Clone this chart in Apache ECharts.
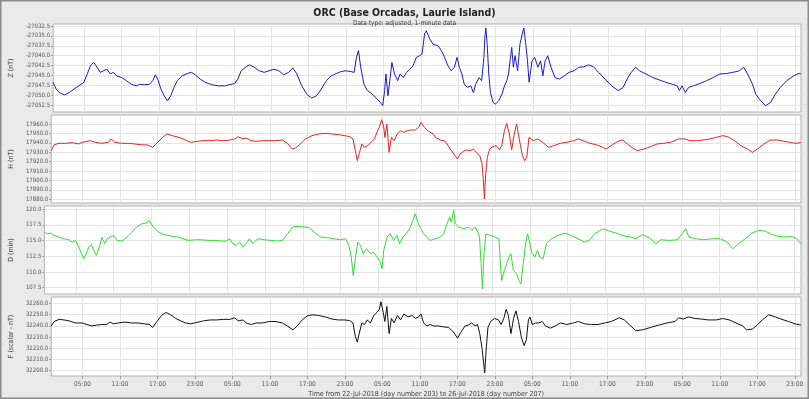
<!DOCTYPE html>
<html>
<head>
<meta charset="utf-8">
<script src="https://cdn.jsdelivr.net/npm/echarts@6/dist/echarts.min.js"></script>
<style>
html, body { margin: 0; padding: 0; background: #eaeaea; }
#chart { width: 809px; height: 399px; }
</style>
</head>
<body>
<div id="chart"></div>
<script>
// time is hours since 22-Jul-2018 00:00 UT
var hourTicks = [5, 11, 17, 23, 29, 35, 41, 47, 53, 59, 65, 71, 77, 83, 89, 95, 101, 107, 113, 119];

var zTicks = [-27052.5, -27050.0, -27047.5, -27045.0, -27042.5, -27040.0, -27037.5, -27035.0, -27032.5];
var hTicks = [17880, 17890, 17900, 17910, 17920, 17930, 17940, 17950, 17960];
var dTicks = [107.5, 110.0, 112.5, 115.0, 117.5, 120.0];
var fTicks = [32200, 32210, 32220, 32230, 32240, 32250, 32260];

var zData = [[0,-27046.7],[0.47,-27048.4],[1.00,-27049.3],[1.79,-27049.9],[2.58,-27049.3],[3.36,-27048.4],[4.15,-27047.6],[4.94,-27046.7],[5.47,-27044.6],[5.99,-27042.5],[6.52,-27041.7],[7.04,-27042.9],[7.57,-27044.2],[8.09,-27043.8],[8.62,-27043.4],[9.15,-27044.6],[9.67,-27044.2],[10.20,-27045.1],[10.98,-27045.5],[11.77,-27046.3],[12.56,-27047.2],[13.35,-27047.6],[13.88,-27047.2],[14.66,-27047.3],[15.45,-27047.2],[15.98,-27046.3],[16.40,-27044.8],[16.77,-27045.9],[17.29,-27048.4],[17.82,-27050.1],[18.34,-27051.4],[18.87,-27050.1],[19.39,-27048.0],[19.92,-27046.3],[20.71,-27045.1],[21.50,-27044.5],[22.18,-27044.2],[22.81,-27044.8],[23.60,-27045.9],[24.39,-27046.7],[25.44,-27047.3],[26.49,-27047.6],[27.54,-27047.6],[28.33,-27047.3],[29.12,-27047.0],[29.64,-27045.9],[30.17,-27043.8],[30.96,-27042.8],[31.48,-27042.3],[32.27,-27042.9],[33.06,-27043.8],[33.85,-27044.2],[34.64,-27043.8],[35.43,-27043.4],[36.21,-27043.8],[37.00,-27044.8],[37.79,-27044.2],[38.47,-27043.1],[39.10,-27044.6],[39.89,-27047.6],[40.68,-27049.7],[41.47,-27050.7],[42.26,-27050.1],[43.05,-27048.4],[43.84,-27046.3],[44.62,-27045.1],[45.41,-27044.5],[46.20,-27044.0],[46.99,-27043.8],[47.78,-27044.0],[48.30,-27044.2],[48.67,-27040.4],[48.99,-27038.7],[49.35,-27042.9],[49.88,-27047.2],[50.40,-27048.8],[50.93,-27049.3],[51.46,-27050.1],[51.98,-27050.9],[52.51,-27051.8],[52.88,-27052.6],[53.19,-27048.8],[53.40,-27044.6],[53.72,-27050.1],[54.08,-27045.5],[54.35,-27041.7],[54.77,-27044.6],[55.29,-27046.3],[55.66,-27044.6],[56.19,-27045.5],[56.71,-27044.2],[57.24,-27043.4],[57.76,-27042.5],[58.29,-27040.4],[58.81,-27040.0],[59.18,-27039.6],[59.60,-27034.5],[59.87,-27033.7],[60.44,-27035.8],[60.97,-27037.1],[61.76,-27037.5],[62.28,-27038.7],[62.81,-27040.4],[63.33,-27042.5],[63.86,-27043.8],[64.39,-27042.9],[64.81,-27040.4],[65.17,-27042.9],[65.59,-27044.6],[65.96,-27047.2],[66.49,-27048.0],[67.01,-27047.6],[67.43,-27049.3],[67.80,-27047.2],[68.33,-27045.5],[68.75,-27046.3],[69.12,-27040.4],[69.27,-27035.4],[69.43,-27033.0],[69.64,-27037.1],[69.90,-27044.6],[70.17,-27049.3],[70.59,-27051.8],[70.96,-27052.2],[71.48,-27051.4],[72.01,-27049.7],[72.43,-27047.6],[72.80,-27046.3],[73.06,-27044.6],[73.32,-27041.3],[73.58,-27037.9],[73.85,-27042.9],[74.11,-27040.0],[74.53,-27043.8],[74.90,-27037.1],[75.27,-27034.5],[75.53,-27033.0],[75.84,-27037.1],[76.11,-27041.3],[76.37,-27046.7],[76.63,-27047.2],[76.84,-27041.3],[77.26,-27040.4],[77.79,-27042.9],[78.21,-27041.3],[78.58,-27045.1],[78.94,-27041.3],[79.36,-27040.0],[79.89,-27042.9],[80.52,-27045.5],[81.20,-27045.9],[81.99,-27045.1],[82.78,-27044.2],[83.57,-27043.8],[84.36,-27042.9],[85.15,-27042.8],[85.94,-27042.3],[86.72,-27042.8],[87.51,-27044.2],[88.56,-27045.9],[89.62,-27047.6],[90.67,-27048.8],[91.45,-27048.0],[92.24,-27045.5],[92.77,-27044.2],[93.45,-27042.9],[94.08,-27043.8],[95.13,-27044.6],[96.18,-27045.5],[97.24,-27046.1],[98.29,-27046.7],[99.34,-27047.2],[100.13,-27047.6],[100.49,-27048.8],[100.92,-27047.6],[101.44,-27049.3],[101.97,-27048.0],[102.75,-27047.6],[103.81,-27047.0],[104.86,-27046.3],[105.91,-27045.5],[106.96,-27044.6],[108.01,-27044.5],[109.06,-27044.2],[110.11,-27043.8],[110.80,-27042.9],[111.43,-27044.6],[112.22,-27047.2],[112.74,-27049.7],[113.53,-27051.4],[114.32,-27052.6],[115.11,-27051.8],[115.89,-27049.7],[116.68,-27048.0],[117.73,-27046.3],[118.79,-27045.1],[119.57,-27044.5],[119.99,-27044.6]];

var hData = [[0,17931.7],[0.47,17938.0],[1.26,17939.5],[2.31,17939.5],[3.36,17940.2],[4.42,17938.8],[4.94,17940.5],[5.73,17941.6],[6.25,17942.3],[7.04,17940.5],[8.09,17939.5],[9.15,17940.5],[9.57,17944.1],[10.20,17940.5],[11.25,17939.5],[12.30,17939.5],[13.35,17938.8],[14.40,17938.0],[15.45,17937.7],[16.24,17935.2],[17.03,17940.5],[17.82,17945.8],[18.50,17949.4],[19.39,17947.6],[20.45,17945.8],[21.50,17943.0],[22.29,17940.5],[23.34,17941.6],[24.39,17942.3],[25.44,17942.3],[26.49,17943.0],[27.54,17942.3],[28.59,17943.0],[29.38,17944.1],[29.91,17946.5],[30.70,17944.1],[31.22,17945.1],[32.01,17942.3],[32.80,17941.6],[33.85,17942.3],[34.90,17942.3],[35.95,17942.3],[37.00,17943.0],[37.79,17939.5],[38.58,17933.4],[39.10,17934.5],[39.89,17938.8],[40.68,17944.1],[41.73,17947.6],[42.78,17949.4],[43.84,17950.1],[44.89,17949.4],[45.94,17948.7],[46.99,17947.6],[47.78,17946.5],[48.30,17944.1],[48.67,17931.7],[48.99,17921.0],[49.35,17929.9],[49.72,17938.8],[50.14,17935.2],[50.67,17937.0],[51.19,17940.5],[51.72,17944.1],[52.24,17952.9],[52.51,17956.5],[52.88,17964.6],[53.19,17958.2],[53.40,17945.8],[53.72,17960.0],[54.08,17929.9],[54.45,17945.8],[54.87,17942.3],[55.40,17949.4],[55.92,17952.9],[56.45,17951.2],[56.97,17952.9],[57.50,17953.6],[58.29,17953.6],[58.81,17956.5],[59.18,17961.8],[59.71,17956.5],[60.39,17952.2],[61.18,17949.4],[61.50,17945.8],[62.28,17943.0],[63.07,17941.6],[63.86,17933.4],[64.65,17926.3],[65.02,17922.8],[65.44,17928.1],[65.96,17930.9],[66.49,17932.4],[67.01,17931.7],[67.54,17933.4],[68.07,17929.9],[68.59,17926.3],[68.96,17917.5],[69.17,17899.7],[69.33,17880.2],[69.54,17906.8],[69.80,17924.6],[70.17,17933.4],[70.69,17935.9],[71.22,17937.0],[71.74,17932.4],[72.11,17937.0],[72.53,17952.9],[72.90,17960.7],[73.32,17949.4],[73.69,17932.4],[74.11,17949.4],[74.48,17960.0],[74.90,17944.1],[75.42,17926.3],[75.79,17921.0],[76.11,17924.6],[76.47,17945.8],[76.74,17947.6],[77.16,17942.3],[77.79,17944.1],[78.31,17942.3],[78.84,17939.5],[79.63,17935.2],[80.42,17937.0],[81.47,17939.5],[82.52,17940.5],[83.57,17942.3],[84.36,17944.1],[85.15,17942.3],[86.20,17939.5],[87.25,17938.0],[88.04,17935.9],[88.83,17933.4],[89.62,17937.0],[90.67,17941.6],[91.45,17943.0],[92.24,17938.8],[93.03,17934.5],[93.82,17931.7],[94.87,17933.4],[95.92,17935.9],[96.97,17938.8],[98.02,17939.5],[99.08,17940.5],[100.39,17944.1],[101.44,17944.1],[102.23,17942.3],[103.28,17942.3],[104.33,17943.0],[105.38,17944.1],[106.43,17945.8],[107.49,17947.6],[108.27,17946.5],[109.33,17942.3],[110.38,17937.0],[111.43,17933.4],[112.22,17929.9],[113.00,17933.4],[114.06,17938.8],[115.11,17943.0],[116.16,17943.0],[117.21,17941.6],[118.26,17940.5],[119.05,17939.5],[119.99,17940.2]];

var dData = [[0,116.35],[0.47,116.09],[1.00,116.19],[1.52,115.82],[2.31,115.56],[3.10,115.29],[3.89,115.13],[4.42,114.76],[4.94,115.03],[5.47,113.97],[5.89,112.90],[6.25,112.11],[6.62,112.90],[7.04,113.97],[7.46,114.39],[7.83,113.43],[8.25,112.64],[8.72,113.97],[9.15,115.56],[9.57,114.50],[9.93,115.29],[10.46,115.56],[10.98,115.82],[11.51,115.03],[12.30,114.92],[13.09,115.56],[13.88,116.35],[14.66,117.15],[15.45,117.68],[16.08,117.79],[16.61,118.21],[17.29,117.15],[18.08,116.35],[18.87,115.98],[19.66,115.82],[20.45,115.66],[21.23,115.56],[22.02,115.29],[22.81,115.03],[23.86,115.13],[24.91,115.13],[25.96,115.03],[27.02,115.03],[28.07,114.92],[28.86,114.92],[29.38,115.29],[29.91,114.50],[30.43,114.23],[30.96,114.76],[31.48,113.97],[32.01,114.50],[32.53,115.29],[33.06,114.50],[33.85,115.29],[34.90,115.13],[35.95,115.03],[37.00,114.92],[37.79,115.03],[38.58,116.09],[39.37,117.15],[40.16,117.26],[41.21,117.15],[42.00,117.04],[42.78,116.35],[43.84,115.56],[44.89,115.45],[45.94,115.29],[46.99,115.13],[47.78,115.29],[48.30,114.23],[48.67,112.37],[48.99,109.45],[49.35,112.37],[49.72,114.76],[50.14,114.23],[50.56,112.90],[51.09,113.70],[51.72,112.90],[52.24,113.17],[52.77,112.37],[53.29,111.57],[53.56,110.51],[53.82,113.43],[54.35,115.56],[54.87,116.09],[55.40,115.03],[55.92,115.82],[56.34,114.50],[56.87,115.56],[57.40,116.09],[57.92,116.88],[58.45,118.21],[58.81,119.27],[59.34,117.68],[59.71,116.88],[60.13,116.09],[60.65,115.56],[61.18,115.03],[62.02,115.29],[62.81,115.56],[63.33,116.09],[63.86,117.68],[64.28,118.74],[64.54,117.95],[64.91,119.80],[65.17,117.68],[65.70,117.15],[66.49,116.88],[67.28,117.15],[67.80,116.62],[68.33,117.15],[68.75,116.35],[69.01,115.56],[69.27,111.31],[69.48,107.33],[69.69,112.37],[70.01,116.09],[70.69,115.82],[71.48,115.56],[72.11,115.29],[72.32,111.31],[72.53,108.65],[72.95,110.25],[73.32,111.31],[73.69,112.37],[74.00,112.90],[74.37,110.25],[74.90,109.71],[75.27,108.65],[75.58,108.12],[75.95,111.31],[76.32,114.50],[76.63,116.09],[77.00,114.50],[77.37,112.90],[77.79,112.37],[78.21,113.43],[78.58,112.37],[79.10,112.11],[79.63,114.50],[80.42,115.29],[81.47,115.82],[82.52,116.19],[83.57,115.82],[84.62,115.29],[85.67,114.76],[86.46,115.03],[87.25,116.09],[88.56,116.88],[89.62,116.51],[90.93,116.09],[92.24,115.66],[93.03,115.56],[93.82,115.29],[94.87,115.98],[96.18,115.29],[96.97,114.50],[97.76,115.13],[99.08,115.03],[100.39,115.13],[101.18,116.09],[101.70,116.88],[102.23,115.56],[103.28,115.29],[104.59,115.13],[105.91,115.29],[107.22,115.29],[108.27,114.76],[109.22,113.70],[110.11,114.50],[111.16,115.29],[112.22,116.19],[113.27,116.62],[114.32,116.51],[115.37,115.98],[116.42,115.66],[117.47,115.56],[118.52,115.66],[119.31,115.29],[119.99,114.50]];

var fData = [[0,32239.8],[0.47,32243.8],[1.26,32245.7],[2.05,32245.2],[2.84,32244.4],[3.89,32242.5],[4.94,32242.5],[5.73,32241.1],[6.52,32239.8],[7.31,32240.6],[8.09,32241.1],[8.88,32241.1],[9.41,32243.3],[9.93,32241.7],[10.72,32242.5],[11.77,32243.3],[12.82,32242.5],[13.88,32242.5],[14.93,32241.7],[15.72,32241.1],[16.24,32238.5],[16.92,32243.8],[17.66,32249.2],[18.34,32251.9],[19.13,32249.8],[19.92,32246.5],[20.71,32244.4],[21.50,32242.5],[22.29,32241.7],[23.34,32243.0],[24.39,32244.4],[25.44,32245.2],[26.49,32245.2],[27.54,32245.7],[28.59,32245.7],[29.38,32247.1],[29.91,32244.4],[30.70,32245.2],[31.22,32242.5],[32.01,32241.1],[32.80,32242.5],[33.85,32242.5],[34.90,32243.8],[35.95,32243.8],[37.00,32242.5],[37.79,32239.8],[38.68,32236.3],[39.37,32239.8],[40.16,32245.2],[40.94,32248.7],[41.73,32249.8],[42.78,32249.2],[43.84,32247.9],[44.89,32246.0],[45.94,32245.2],[46.99,32245.2],[47.78,32244.6],[48.30,32242.5],[48.67,32230.3],[48.99,32225.4],[49.35,32234.4],[49.72,32242.5],[50.14,32241.1],[50.56,32245.2],[51.09,32242.5],[51.61,32249.2],[52.14,32251.9],[52.51,32254.6],[52.77,32261.4],[53.14,32251.9],[53.40,32243.8],[53.72,32257.3],[54.08,32233.0],[54.45,32246.5],[54.87,32242.5],[55.40,32249.2],[55.92,32245.2],[56.45,32250.6],[57.08,32247.9],[57.76,32249.2],[58.29,32246.5],[58.81,32247.9],[59.18,32250.6],[59.60,32242.5],[60.13,32239.8],[60.65,32241.1],[61.18,32239.8],[62.02,32239.8],[62.81,32239.0],[63.60,32238.5],[64.39,32234.4],[65.02,32229.0],[65.59,32234.4],[66.23,32239.8],[66.75,32240.6],[67.28,32242.5],[67.80,32239.8],[68.22,32241.1],[68.59,32233.0],[68.96,32219.5],[69.22,32206.0],[69.38,32197.9],[69.59,32216.8],[69.90,32238.5],[70.32,32243.8],[70.96,32246.5],[71.59,32245.2],[72.01,32241.1],[72.43,32246.5],[72.80,32254.6],[73.16,32249.2],[73.58,32233.0],[74.00,32246.5],[74.37,32253.3],[74.79,32243.8],[75.27,32229.0],[75.69,32222.2],[76.05,32227.6],[76.37,32245.2],[76.63,32247.9],[77.00,32241.1],[77.53,32242.5],[78.05,32242.5],[78.58,32243.8],[79.10,32239.8],[79.89,32237.9],[80.68,32239.8],[81.47,32242.5],[82.52,32241.1],[83.57,32242.5],[84.36,32243.8],[85.41,32241.7],[86.46,32241.1],[87.51,32241.1],[88.56,32242.5],[89.62,32243.8],[90.93,32247.1],[91.72,32245.2],[92.50,32241.1],[93.56,32235.7],[94.61,32236.3],[95.92,32238.5],[97.24,32240.6],[98.55,32242.5],[99.86,32243.8],[100.39,32247.1],[101.18,32246.0],[101.97,32247.9],[103.02,32246.5],[104.07,32246.0],[105.12,32245.2],[106.43,32245.2],[107.49,32246.5],[108.54,32245.2],[109.59,32242.5],[110.64,32239.8],[111.32,32236.3],[112.22,32237.1],[113.00,32240.6],[113.79,32245.2],[114.84,32249.8],[115.89,32247.9],[116.95,32245.7],[118.00,32243.8],[119.05,32241.7],[119.99,32240.6]];

var panels = [
    { name: "Z (nT)", data: zData, ticks: zTicks, min: -27054.2, max: -27032.0, color: "#1a1ad6", top: 24, height: 88 },
    { name: "H (nT)", data: hData, ticks: hTicks, min: 17876.0, max: 17969.6, color: "#e8231f", top: 115, height: 88 },
    { name: "D (min)", data: dData, ticks: dTicks, min: 106.5, max: 120.5, color: "#2fe02f", top: 206, height: 88 },
    { name: "F (scalar - nT)", data: fData, ticks: fTicks, min: 32195.1, max: 32265.7, color: "#111111", top: 297, height: 87 }
];

var FONT = "'DejaVu Sans Condensed', 'Liberation Sans', sans-serif";

var pad2 = function(n) {
    return (n < 10 ? "0" : "") + n;
};

var grids = [], xAxes = [], yAxes = [], series = [];

panels.forEach(function(p, i) {
    var last = i === panels.length - 1;
    grids.push({
        left: 40, right: 8, top: p.top, height: p.height,
        show: true, backgroundColor: "#ffffff", borderColor: "#b0b0b0", borderWidth: 1
    });
    xAxes.push({
        type: "value", gridIndex: i, min: 0, max: 120,
        axisLine: { show: false },
        axisTick: { show: last, customValues: hourTicks, length: 3, lineStyle: { color: "#999" } },
        axisLabel: {
            show: last, customValues: hourTicks, margin: 5,
            fontFamily: FONT, fontSize: 6.5, color: "#555",
            formatter: function(v) { return pad2(Math.round(v) % 24) + ":00"; }
        },
        splitLine: { show: true, lineStyle: { color: "#e4e4e4", width: 1 } },
        name: last ? "Time from 22-Jul-2018 (day number 203) to 26-Jul-2018 (day number 207)" : "",
        nameLocation: "middle", nameGap: 15,
        nameTextStyle: { fontFamily: FONT, fontSize: 7, color: "#444" }
    });
    yAxes.push({
        type: "value", gridIndex: i, min: p.min, max: p.max, scale: true,
        axisLine: { show: false },
        axisTick: { show: true, customValues: p.ticks, length: 2, lineStyle: { color: "#999" } },
        axisLabel: {
            customValues: p.ticks, margin: 3,
            fontFamily: FONT, fontSize: 6, color: "#555",
            formatter: function(v) { return v.toFixed(1); }
        },
        splitLine: { show: true, lineStyle: { color: "#e4e4e4", width: 1 } },
        name: p.name, nameLocation: "middle", nameRotate: 90, nameGap: 27,
        nameTextStyle: { fontFamily: FONT, fontSize: 7, color: "#444" }
    });
    series.push({
        type: "line", xAxisIndex: i, yAxisIndex: i, data: p.data,
        showSymbol: false, symbol: "none", smooth: false,
        lineStyle: { color: p.color, width: 1 },
        itemStyle: { color: p.color },
        animation: false
    });
});

var chart = echarts.init(document.getElementById("chart"));
chart.setOption({
    backgroundColor: "#eaeaea",
    animation: false,
    title: [{
        text: "ORC (Base Orcadas, Laurie Island)",
        left: "center", top: 3,
        textStyle: { fontFamily: FONT, fontWeight: "bold", fontSize: 10.5, color: "#222" }
    }, {
        text: "Data type: adjusted, 1-minute data",
        left: "center", top: 15,
        textStyle: { fontFamily: FONT, fontWeight: "normal", fontSize: 6.5, color: "#333" }
    }],
    graphic: [{
        type: "rect", silent: true,
        shape: { x: 0.5, y: 0.5, width: 808, height: 398 },
        style: { fill: "none", stroke: "#8a8a8a", lineWidth: 2 }
    }],
    grid: grids,
    xAxis: xAxes,
    yAxis: yAxes,
    series: series
});
</script>
</body>
</html>
